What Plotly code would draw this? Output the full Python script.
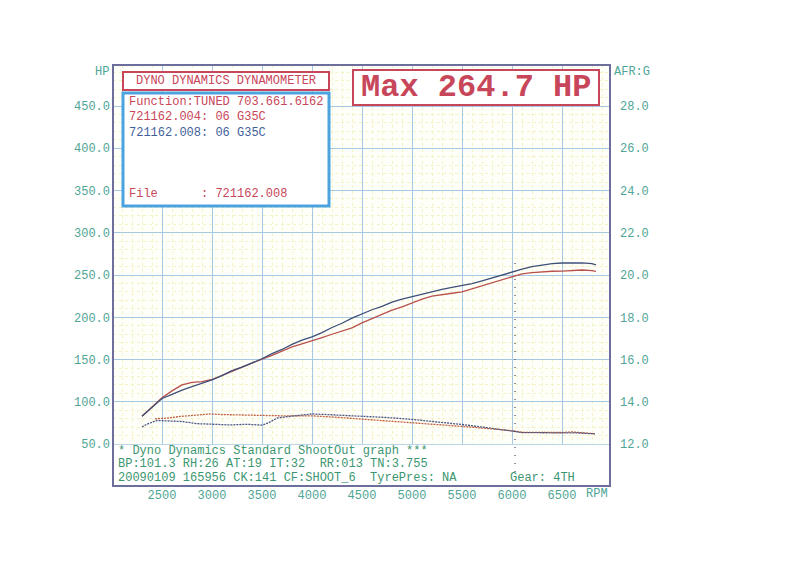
import plotly.graph_objects as go

# ---------------- data ----------------
rpm_power = [2300, 2400, 2500, 2600, 2700, 2800, 2900, 3000, 3100, 3200, 3300, 3400, 3500,
             3600, 3700, 3800, 3900, 4000, 4100, 4200, 4300, 4400, 4500, 4600, 4700, 4800,
             4900, 5000, 5100, 5200, 5300, 5400, 5500, 5600, 5700, 5800, 5900, 6000, 6100,
             6200, 6300, 6400, 6500, 6600, 6700, 6800, 6840]
hp_run_008 = [83, 93, 104, 109, 114, 118, 122, 126, 131, 137, 141, 146, 151,
              157, 162, 168, 173, 177, 182, 188, 193, 199, 204, 209, 213, 218,
              221.5, 224.5, 227.5, 230.5, 233, 235.5, 237.5, 240, 243, 246.5, 250, 254, 257,
              260, 262, 263.5, 264.3, 264.7, 264.5, 263.5, 262]
hp_run_004 = [83, 94, 105, 113, 120, 123, 124, 126.5, 131, 136, 141, 146, 150.5,
              155, 160, 165, 168.5, 172, 176, 180, 184, 187.5, 193.5, 198.5, 203.5, 208.5,
              212.5, 217, 221.5, 225, 227, 228.5, 230, 233.5, 237, 240.5, 244, 248, 251.5,
              253, 254, 254.5, 254.7, 255.2, 256, 255.2, 254.5]

rpm_afr_008 = [2300, 2350, 2450, 2600, 2700, 2850, 3000, 3180, 3350, 3450, 3500, 3560, 3650,
               3750, 3850, 4000, 4100, 4250, 4500, 4750, 5000, 5250, 5500, 5750, 6000,
               6100, 6300, 6500, 6650, 6830]
afr_run_008 = [12.81, 12.95, 13.12, 13.10, 13.07, 12.97, 12.93, 12.91, 12.94, 12.90, 12.90,
               13.00, 13.23, 13.30, 13.34, 13.43, 13.41, 13.38, 13.31, 13.26, 13.17, 13.06,
               12.93, 12.78, 12.64, 12.55, 12.54, 12.55, 12.53, 12.49]
rpm_afr_004 = [2430, 2550, 2680, 2850, 2980, 3100, 3250, 3500, 3700, 3850, 4000, 4250, 4500,
               4750, 5000, 5250, 5500, 5750, 6000, 6100, 6300, 6500, 6600, 6700, 6830]
afr_run_004 = [13.20, 13.23, 13.31, 13.38, 13.43, 13.40, 13.38, 13.35, 13.34, 13.34, 13.34,
               13.27, 13.19, 13.11, 13.03, 12.93, 12.84, 12.74, 12.64, 12.56, 12.54, 12.55,
               12.58, 12.54, 12.49]

cursor_rpm = 6030
max_hp_text = "Max 264.7 HP"
x_ticks = [2500, 3000, 3500, 4000, 4500, 5000, 5500, 6000, 6500]
hp_ticks = [50, 100, 150, 200, 250, 300, 350, 400, 450]
afr_ticks = [12, 14, 16, 18, 20, 22, 24, 26, 28]

info_lines = [
    ("Function:TUNED 703.661.6162", "#c8465a"),
    ("721162.004: 06 G35C", "#c8465a"),
    ("721162.008: 06 G35C", "#3f5f9c"),
]
file_line = "File      : 721162.008"
footer_lines = [
    "* Dyno Dynamics Standard ShootOut graph ***",
    "BP:101.3 RH:26 AT:19 IT:32  RR:013 TN:3.755",
    "20090109 165956 CK:141 CF:SHOOT_6  TyrePres: NA",
]
gear_text = "Gear: 4TH"

# ---------------- style ----------------
MONO = "Liberation Mono, DejaVu Sans Mono, monospace"
TEAL = "#4fa595"
GREEN = "#3c9670"
FRAME = "#6e6e9c"
RED = "#c8465a"
BLUE_BOX = "#4aa3df"
RED_LINE = "#b8504c"
BLUE_LINE = "#3e4f78"

fig = go.Figure()
fig.add_trace(go.Scatter(x=rpm_power, y=hp_run_004, mode="lines",
                         line=dict(color=RED_LINE, width=1.3), showlegend=False))
fig.add_trace(go.Scatter(x=rpm_power, y=hp_run_008, mode="lines",
                         line=dict(color=BLUE_LINE, width=1.3), showlegend=False))
fig.add_trace(go.Scatter(x=rpm_afr_004, y=afr_run_004, mode="lines", yaxis="y2",
                         line=dict(color="#c0603e", width=1.3, dash="2px,1px"), showlegend=False))
fig.add_trace(go.Scatter(x=rpm_afr_008, y=afr_run_008, mode="lines", yaxis="y2",
                         line=dict(color="#4a5580", width=1.3, dash="2px,1px"), showlegend=False))

L, R, T, B = 113, 190, 65, 96
W, H = 800, 582
PW, PH = W - L - R, H - T - B


def px(xp):
    return (xp - L) / PW


def py(yp):
    return (H - B - yp) / PH


shapes = []
# white footer area (below 50 HP line)
shapes.append(dict(type="rect", xref="paper", yref="y", x0=0, x1=1, y0=0.5, y1=49.4,
                   fillcolor="white", line=dict(width=0), layer="above"))
# cursor dotted line
shapes.append(dict(type="line", xref="x", yref="paper", x0=cursor_rpm, x1=cursor_rpm,
                   y0=py(472), y1=py(258), line=dict(color="#555566", width=1.3, dash="1px,7px"),
                   layer="above"))
# title box
shapes.append(dict(type="rect", xref="paper", yref="paper", x0=px(123), x1=px(329),
                   y0=py(90), y1=py(72), fillcolor="white", line=dict(color=RED, width=2),
                   layer="above"))
# info box
shapes.append(dict(type="rect", xref="paper", yref="paper", x0=px(123), x1=px(329),
                   y0=py(206), y1=py(93), fillcolor="white", line=dict(color=BLUE_BOX, width=3),
                   layer="above"))
# max box
shapes.append(dict(type="rect", xref="paper", yref="paper", x0=px(353), x1=px(599),
                   y0=py(105), y1=py(70), fillcolor="white", line=dict(color=RED, width=2),
                   layer="above"))
# frame
shapes.append(dict(type="rect", xref="paper", yref="paper", x0=0, x1=1, y0=0, y1=1,
                   line=dict(color=FRAME, width=2), layer="above"))

ann = []
ann.append(dict(xref="paper", yref="paper", x=px(226), y=py(81), text="DYNO DYNAMICS DYNAMOMETER",
                showarrow=False, font=dict(family=MONO, size=12, color=RED),
                xanchor="center", yanchor="middle"))
for i, (t, c) in enumerate(info_lines):
    ann.append(dict(xref="paper", yref="paper", x=px(127), y=py(102 + 15.5 * i), text=t,
                    showarrow=False, font=dict(family=MONO, size=12, color=c),
                    xanchor="left", yanchor="middle"))
ann.append(dict(xref="paper", yref="paper", x=px(127), y=py(194), text=file_line.replace(" ", "&nbsp;"),
                showarrow=False, font=dict(family=MONO, size=12, color=RED),
                xanchor="left", yanchor="middle"))
ann.append(dict(xref="paper", yref="paper", x=px(476), y=py(88), text="<b>" + max_hp_text + "</b>",
                showarrow=False, font=dict(family=MONO, size=32, color=RED),
                xanchor="center", yanchor="middle"))
for i, t in enumerate(footer_lines):
    ann.append(dict(xref="paper", yref="paper", x=px(116), y=py(450.5 + 13.8 * i),
                    text=t.replace(" ", "&nbsp;"), showarrow=False,
                    font=dict(family=MONO, size=12, color=GREEN),
                    xanchor="left", yanchor="middle"))
ann.append(dict(xref="paper", yref="paper", x=px(508), y=py(478), text=gear_text.replace(" ", "&nbsp;"),
                showarrow=False, font=dict(family=MONO, size=12, color=GREEN),
                xanchor="left", yanchor="middle"))
ann.append(dict(xref="paper", yref="paper", x=px(111), y=py(72), text="HP", showarrow=False,
                font=dict(family=MONO, size=12, color=TEAL), xanchor="right", yanchor="middle"))
ann.append(dict(xref="paper", yref="paper", x=px(612), y=py(72), text="AFR:G", showarrow=False,
                font=dict(family=MONO, size=12, color=TEAL), xanchor="left", yanchor="middle"))
ann.append(dict(xref="paper", yref="paper", x=px(584), y=py(494), text="RPM", showarrow=False,
                font=dict(family=MONO, size=12, color=TEAL), xanchor="left", yanchor="middle"))

grid_major = "#a6c8e2"
grid_minor = "#f5f2c8"

fig.update_layout(
    width=W, height=H,
    margin=dict(l=L, r=R, t=T, b=B, pad=0),
    paper_bgcolor="white", plot_bgcolor="#fffffa",
    showlegend=False,
    shapes=shapes, annotations=ann,
    xaxis=dict(range=[2010, 6980], tickvals=x_ticks, ticktext=[str(v) for v in x_ticks],
               showgrid=True, gridcolor=grid_major, gridwidth=1, zeroline=False,
               minor=dict(dtick=100, tick0=0, showgrid=True, gridcolor=grid_minor, griddash="dot"),
               tickfont=dict(family=MONO, size=12, color=TEAL), ticks="", showline=False,
               ticklabelstandoff=0),
    yaxis=dict(range=[0.5, 498.5], tickvals=hp_ticks, tickformat=".1f",
               showgrid=True, gridcolor=grid_major, gridwidth=1, zeroline=False,
               minor=dict(dtick=10, tick0=0, showgrid=True, gridcolor=grid_minor, griddash="dot"),
               tickfont=dict(family=MONO, size=12, color=TEAL), ticks="", showline=False,
               ticklabelstandoff=2),
    yaxis2=dict(range=[10.02, 29.94], tickvals=afr_ticks, tickformat=".1f", overlaying="y",
                side="right", showgrid=False, zeroline=False,
                tickfont=dict(family=MONO, size=12, color=TEAL), ticks="", showline=False,
                ticklabelstandoff=9),
)

fig.write_html("out.html", config={"displayModeBar": False},
               post_script="document.body.style.margin='0';")
